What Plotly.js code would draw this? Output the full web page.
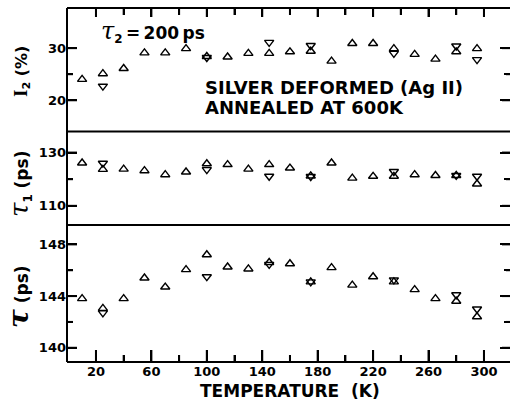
<!DOCTYPE html>
<html>
<head>
<meta charset="utf-8">
<script src="https://cdn.plot.ly/plotly-3.0.1.min.js"></script>
<style>
html,body{margin:0;padding:0;overflow:hidden;background:#fff;}
#chart{width:510px;height:400px;}
</style>
</head>
<body>
<div id="chart"></div>
<script>
// Temperatures (K)
var temps = [10,25,40,55,70,85,100,115,130,145,160,175,190,205,220,235,250,265,280,295];

// Panel 1: I2 (%)
var i2Up = [24.0,25.1,26.1,29.1,29.1,29.9,28.4,28.3,29.0,29.0,29.3,29.4,27.5,30.9,30.9,29.9,28.8,27.9,29.3,29.9];
var i2DownT = [25,100,145,175,235,280,295];
var i2Down = [22.7,28.2,31.1,30.5,29.0,30.4,27.8];

// Panel 2: tau1 (ps)
var t1Up = [126.1,123.7,123.8,123.2,121.7,122.7,125.8,125.5,123.8,125.5,124.2,121.2,126.1,120.4,121.1,121.1,121.7,121.4,121.4,118.2];
var t1DownT = [25,100,145,175,235,280,295];
var t1Down = [126.0,123.6,121.1,121.0,122.9,121.4,121.1];

// Panel 3: mean tau (ps)
var tmUp = [143.8,143.05,143.8,145.4,144.7,146.05,147.2,146.25,146.1,146.6,146.5,145.1,146.2,144.85,145.5,145.1,144.5,143.8,143.6,142.4];
var tmDownT = [25,100,145,175,235,280,295];
var tmDown = [142.7,145.5,146.45,145.1,145.25,144.1,143.0];

// Tick labels
var xTickVals = [20,60,100,140,180,220,260,300];
var xMinorVals = [40,80,120,160,200,240,280];
var y1TickVals = [20,30], y1Minor = [25];
var y2TickVals = [110,130], y2Minor = [120];
var y3TickVals = [140,144,148], y3Minor = [142,146];

var FONT = 'DejaVu Sans';
function mk(sym){
  return {symbol: sym, size: 8, color: '#000', line: {color: '#000', width: 1.4}};
}
function tr(x, y, sym, xa, ya){
  return {x: x, y: y, type: 'scatter', mode: 'markers', marker: mk(sym), xaxis: xa, yaxis: ya, hoverinfo: 'skip', showlegend: false, cliponaxis: false};
}
var data = [
  tr(temps, i2Up, 'triangle-up-open', 'x2', 'y'),
  tr(i2DownT, i2Down, 'triangle-down-open', 'x2', 'y'),
  tr(temps, t1Up, 'triangle-up-open', 'x', 'y2'),
  tr(t1DownT, t1Down, 'triangle-down-open', 'x', 'y2'),
  tr(temps, tmUp, 'triangle-up-open', 'x', 'y3'),
  tr(tmDownT, tmDown, 'triangle-down-open', 'x', 'y3')
];

var y1Range = [14, 37.7], y2Range = [102.8, 137.9], y3Range = [138.9, 149.5];
var y1Dom = [0.651, 1], y2Dom = [0.387, 0.651], y3Dom = [0, 0.387];
var xRange = [-0.9, 318.8];

var tickFont = {family: FONT, size: 13, color: '#000', weight: 700};
function yax(domain, range, vals, minorVals, anchorX){
  return {
    domain: domain, range: range, tickmode: 'array', tickvals: vals,
    ticks: 'inside', ticklen: 10, tickwidth: 2, tickcolor: '#000',
    minor: {tickmode: 'array', tickvals: minorVals, ticks: 'inside', ticklen: 6, tickwidth: 2, tickcolor: '#000', showgrid: false},
    mirror: 'ticks', showline: false, showgrid: false, zeroline: false,
    tickfont: tickFont, anchor: anchorX
  };
}
function xax(extra){
  return Object.assign({
    range: xRange, tickmode: 'array', tickvals: xTickVals,
    ticks: 'inside', ticklen: 12, tickwidth: 2, tickcolor: '#000',
    minor: {tickmode: 'array', tickvals: xMinorVals, ticks: 'inside', ticklen: 7, tickwidth: 2, tickcolor: '#000', showgrid: false},
    showline: false, showgrid: false, zeroline: false, tickfont: tickFont, domain: [0, 1]
  }, extra);
}
var xaxis = xax({anchor: 'y3'});
var xaxis2 = xax({anchor: 'y', side: 'top', showticklabels: false, ticklen: 9});

var W = 443, H = 354;
function px(x){ return (x - 67) / W; }
function py(y){ return (362 - y) / H; }
// map axis values to paper fractions using the axes' ranges and domains
function xFrac(v){ return (v - xRange[0]) / (xRange[1] - xRange[0]); }
function yFrac(v, r, d){ return d[0] + (v - r[0]) / (r[1] - r[0]) * (d[1] - d[0]); }

var tickLine = {color: '#000', width: 2};
var shapes = [];
function vtick(v, len, atTop){
  var xf = xFrac(v);
  var y0 = atTop ? 1 : 0, y1 = atTop ? 1 - len / H : len / H;
  shapes.push({type: 'line', xref: 'paper', yref: 'paper', x0: xf, x1: xf, y0: y0, y1: y1, line: tickLine});
}
xTickVals.forEach(function(v){ vtick(v, 12, false); vtick(v, 9, true); });
xMinorVals.forEach(function(v){ vtick(v, 7, false); vtick(v, 7, true); });
function htick(v, r, d, len){
  var yf = yFrac(v, r, d);
  shapes.push({type: 'line', xref: 'paper', yref: 'paper', x0: 0, x1: len / W, y0: yf, y1: yf, line: tickLine});
  shapes.push({type: 'line', xref: 'paper', yref: 'paper', x0: 1, x1: 1 - (len - 2) / W, y0: yf, y1: yf, line: tickLine});
}
[[y1TickVals, y1Minor, y1Range, y1Dom], [y2TickVals, y2Minor, y2Range, y2Dom], [y3TickVals, y3Minor, y3Range, y3Dom]].forEach(function(p){
  p[0].forEach(function(v){ htick(v, p[2], p[3], 10); });
  p[1].forEach(function(v){ htick(v, p[2], p[3], 6); });
});

var lineStyle = {color: '#000', width: 2};
shapes.push(
  {type: 'line', xref: 'paper', yref: 'paper', x0: 0, x1: 0, y0: 0, y1: 1, line: lineStyle},
  {type: 'line', xref: 'paper', yref: 'paper', x0: 0, x1: 1, y0: 1, y1: 1, line: lineStyle},
  {type: 'line', xref: 'paper', yref: 'paper', x0: 0, x1: 1, y0: 0, y1: 0, line: lineStyle},
  {type: 'line', xref: 'paper', yref: 'paper', x0: 0, x1: 1, y0: y3Dom[1], y1: y3Dom[1], line: lineStyle},
  {type: 'line', xref: 'paper', yref: 'paper', x0: 0, x1: 1, y0: y2Dom[1], y1: y2Dom[1], line: lineStyle}
);

var tauBig = function(sz){ return "<span style='font-family:DejaVu Serif;font-style:italic;font-weight:normal;font-size:" + sz + "px'>τ</span>"; };
var annotations = [
  {text: tauBig(24) + "<sub>2</sub>\u2009=\u2009200\u2009ps", x: px(99), y: py(31), xanchor: 'left', yanchor: 'middle', font: {family: FONT, size: 17, color: '#000', weight: 700}},
  {text: "SILVER DEFORMED (Ag II)", x: px(203), y: py(87), xanchor: 'left', yanchor: 'middle', font: {family: FONT, size: 18, color: '#000', weight: 700}},
  {text: "ANNEALED AT 600K", x: px(203), y: py(107), xanchor: 'left', yanchor: 'middle', font: {family: FONT, size: 18, color: '#000', weight: 700}},
  {text: "<span style='font-family:Liberation Serif;font-weight:700;font-size:19px'>I</span><sub>2</sub> (%)", x: px(21), y: py(72), textangle: -90, xanchor: 'center', yanchor: 'middle', font: {family: FONT, size: 16, color: '#000', weight: 700}},
  {text: tauBig(26) + "<sub>1</sub> (ps)", x: px(19), y: py(184), textangle: -90, xanchor: 'center', yanchor: 'middle', font: {family: FONT, size: 17, color: '#000', weight: 700}},
  {text: "<span style='font-family:DejaVu Serif;font-style:italic;font-size:28px'>τ</span> (ps)", x: px(18), y: py(297), textangle: -90, xanchor: 'center', yanchor: 'middle', font: {family: FONT, size: 17, color: '#000', weight: 700}},
  {text: "TEMPERATURE  (K)", x: px(290), y: py(391), xanchor: 'center', yanchor: 'middle', font: {family: FONT, size: 17, color: '#000', weight: 700}}
];
annotations.forEach(function(a){ a.xref = 'paper'; a.yref = 'paper'; a.showarrow = false; });

var layout = {
  width: 510, height: 400,
  margin: {l: 67, r: 0, t: 8, b: 38},
  paper_bgcolor: '#fff', plot_bgcolor: '#fff',
  showlegend: false,
  xaxis: xaxis, xaxis2: xaxis2,
  yaxis: yax(y1Dom, y1Range, y1TickVals, y1Minor, 'x2'),
  yaxis2: yax(y2Dom, y2Range, y2TickVals, y2Minor, 'x'),
  yaxis3: yax(y3Dom, y3Range, y3TickVals, y3Minor, 'x'),
  annotations: annotations,
  shapes: shapes
};
Plotly.newPlot('chart', data, layout, {displayModeBar: false, staticPlot: true});
</script>
</body>
</html>
